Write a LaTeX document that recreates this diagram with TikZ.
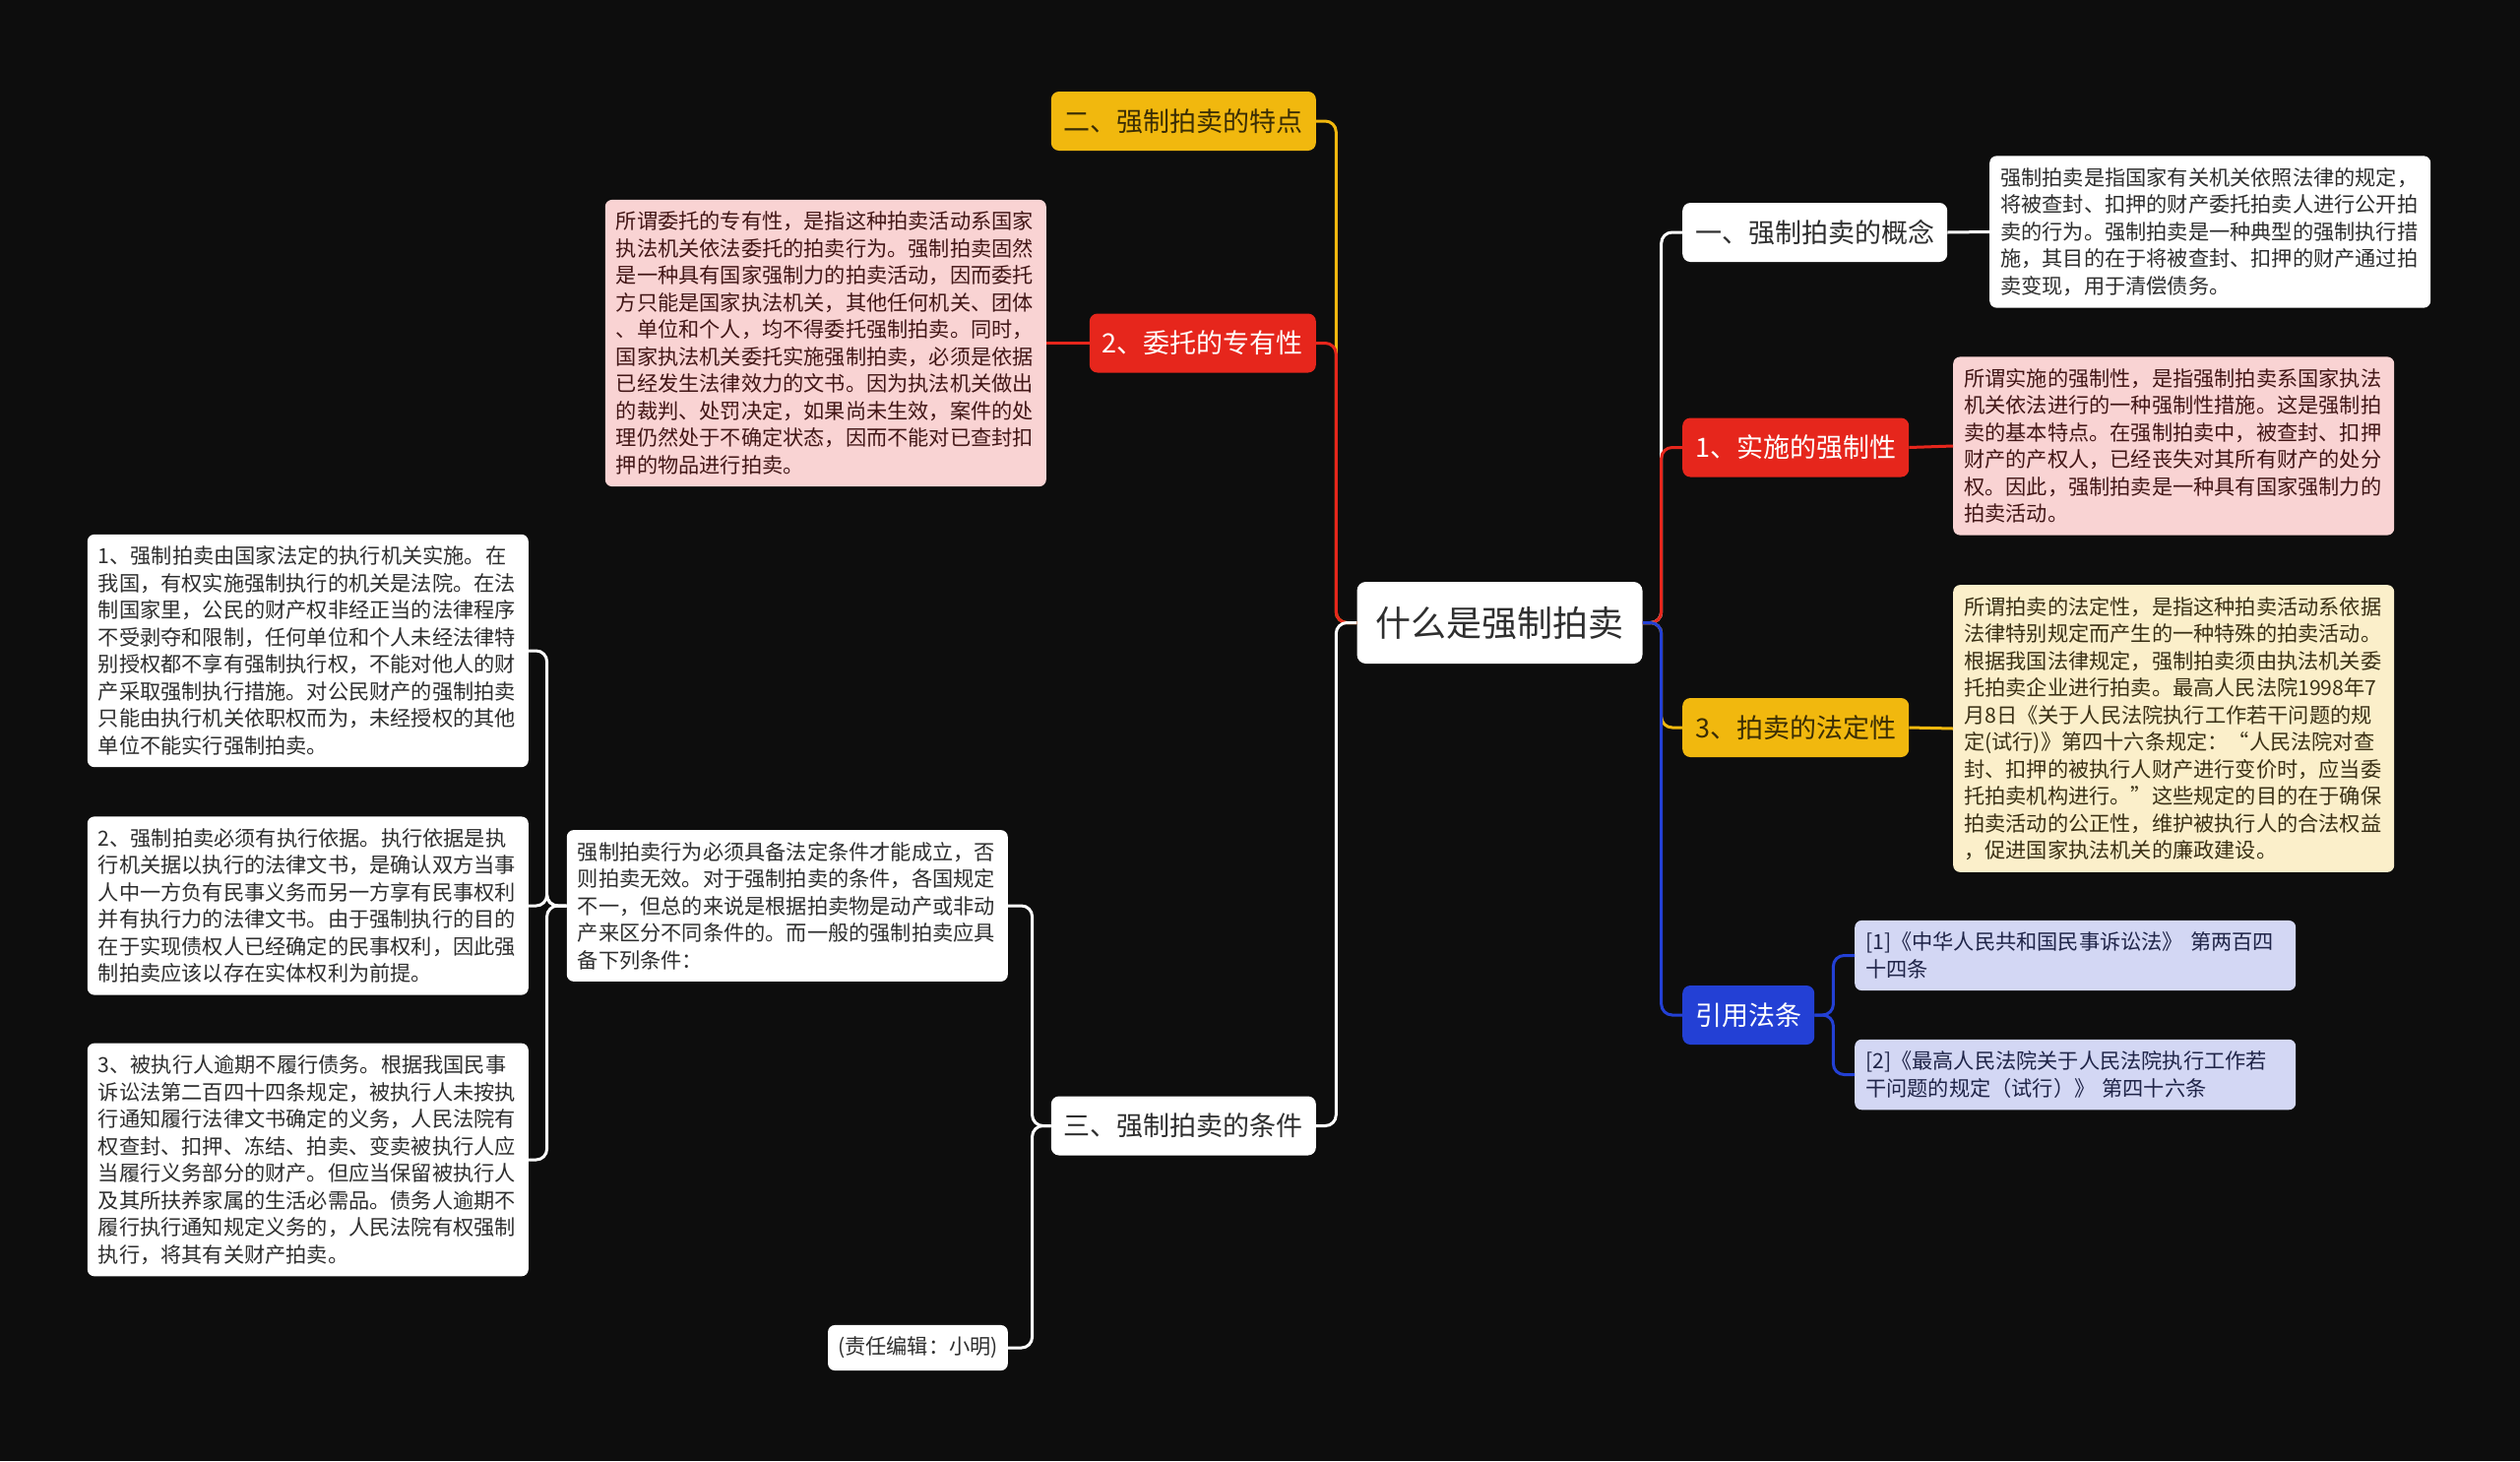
\documentclass[tikz,border=0pt]{standalone}
\usepackage{fontspec}
\setmainfont{Noto Sans CJK SC}
\definecolor{bg}{HTML}{0D0D0D}
\definecolor{cyel}{HTML}{F1B80E}
\definecolor{cred}{HTML}{E6261C}
\definecolor{cblue}{HTML}{2340D5}
\definecolor{cpink}{HTML}{F9D3D3}
\definecolor{ccream}{HTML}{FBEFCA}
\definecolor{clav}{HTML}{D3D7F4}
\definecolor{tdark}{HTML}{2E2E2E}
\definecolor{tyel}{HTML}{3A2D05}
\definecolor{tpink}{HTML}{421616}
\definecolor{tcream}{HTML}{3A3015}
\definecolor{tlav}{HTML}{1F2448}
\tikzset{
  branch/.style={rounded corners=8pt, minimum height=60pt, inner xsep=13pt, inner ysep=0pt, font=\fontsize{27}{32}\selectfont},
  leaf/.style={rounded corners=7pt, text width=426pt, align=left, inner xsep=11pt, inner ysep=12pt, font=\fontsize{21.2}{27.5}\selectfont},
  conn/.style={line width=3pt, rounded corners=11pt},
}
\begin{document}
\begin{tikzpicture}[x=1pt,y=-1pt]
\useasboundingbox (0,0) rectangle (2560,1484);
\fill[bg] (0,0) rectangle (2560,1484);

% root
\node[fill=white, text=tdark, rounded corners=9pt, minimum height=83pt, inner xsep=19pt, inner ysep=0pt, font=\fontsize{36}{42}\selectfont] (root) at (1523.5,632.5) {什么是强制拍卖};

% left branches
\node[branch, fill=cyel, text=tyel, anchor=east] (tedian) at (1337,123) {二、强制拍卖的特点};
\node[branch, fill=cred, text=white, anchor=east] (weituo) at (1337,348.5) {2、委托的专有性};
\node[branch, fill=white, text=tdark, anchor=east] (tiaojian) at (1337,1143.5) {三、强制拍卖的条件};

% right branches
\node[branch, fill=white, text=tdark, anchor=west] (gainian) at (1709,236) {一、强制拍卖的概念};
\node[branch, fill=cred, text=white, anchor=west] (qiangzhi) at (1709,454.5) {1、实施的强制性};
\node[branch, fill=cyel, text=tyel, anchor=west] (fading) at (1709,739) {3、拍卖的法定性};
\node[branch, fill=cblue, text=white, anchor=west] (yinyong) at (1709,1031) {引用法条};

% right leaves
\node[leaf, fill=white, text=tdark, anchor=west] (gnText) at (2021,235.5) {强制拍卖是指国家有关机关依照法律的规定，\\将被查封、扣押的财产委托拍卖人进行公开拍\\卖的行为。强制拍卖是一种典型的强制执行措\\施，其目的在于将被查封、扣押的财产通过拍\\卖变现，用于清偿债务。};
\node[leaf, fill=cpink, text=tpink, anchor=west] (qzText) at (1984,453) {所谓实施的强制性，是指强制拍卖系国家执法\\机关依法进行的一种强制性措施。这是强制拍\\卖的基本特点。在强制拍卖中，被查封、扣押\\财产的产权人，已经丧失对其所有财产的处分\\权。因此，强制拍卖是一种具有国家强制力的\\拍卖活动。};
\node[leaf, fill=ccream, text=tcream, anchor=west] (fdText) at (1984,740) {所谓拍卖的法定性，是指这种拍卖活动系依据\\法律特别规定而产生的一种特殊的拍卖活动。\\根据我国法律规定，强制拍卖须由执法机关委\\托拍卖企业进行拍卖。最高人民法院1998年7\\月8日《关于人民法院执行工作若干问题的规\\定(试行)》第四十六条规定：“人民法院对查\\封、扣押的被执行人财产进行变价时，应当委\\托拍卖机构进行。”这些规定的目的在于确保\\拍卖活动的公正性，维护被执行人的合法权益\\，促进国家执法机关的廉政建设。};
\node[leaf, fill=clav, text=tlav, anchor=west] (ref1) at (1884,970.5) {[1]《中华人民共和国民事诉讼法》 第两百四\\十四条};
\node[leaf, fill=clav, text=tlav, anchor=west] (ref2) at (1884,1091.5) {[2]《最高人民法院关于人民法院执行工作若\\干问题的规定（试行）》 第四十六条};

% left leaves
\node[leaf, fill=cpink, text=tpink, anchor=east] (wtText) at (1063,348.5) {所谓委托的专有性，是指这种拍卖活动系国家\\执法机关依法委托的拍卖行为。强制拍卖固然\\是一种具有国家强制力的拍卖活动，因而委托\\方只能是国家执法机关，其他任何机关、团体\\、单位和个人，均不得委托强制拍卖。同时，\\国家执法机关委托实施强制拍卖，必须是依据\\已经发生法律效力的文书。因为执法机关做出\\的裁判、处罚决定，如果尚未生效，案件的处\\理仍然处于不确定状态，因而不能对已查封扣\\押的物品进行拍卖。};
\node[leaf, fill=white, text=tdark, anchor=east] (intro) at (1024,920) {强制拍卖行为必须具备法定条件才能成立，否\\则拍卖无效。对于强制拍卖的条件，各国规定\\不一，但总的来说是根据拍卖物是动产或非动\\产来区分不同条件的。而一般的强制拍卖应具\\备下列条件：};
\node[fill=white, text=tdark, rounded corners=7pt, inner xsep=10pt, inner ysep=12pt, font=\fontsize{21.2}{27.5}\selectfont, anchor=east] (editor) at (1024,1369) {(责任编辑：小明)};
\node[leaf, fill=white, text=tdark, anchor=east] (cond1) at (537,661) {1、强制拍卖由国家法定的执行机关实施。在\\我国，有权实施强制执行的机关是法院。在法\\制国家里，公民的财产权非经正当的法律程序\\不受剥夺和限制，任何单位和个人未经法律特\\别授权都不享有强制执行权，不能对他人的财\\产采取强制执行措施。对公民财产的强制拍卖\\只能由执行机关依职权而为，未经授权的其他\\单位不能实行强制拍卖。};
\node[leaf, fill=white, text=tdark, anchor=east] (cond2) at (537,920) {2、强制拍卖必须有执行依据。执行依据是执\\行机关据以执行的法律文书，是确认双方当事\\人中一方负有民事义务而另一方享有民事权利\\并有执行力的法律文书。由于强制执行的目的\\在于实现债权人已经确定的民事权利，因此强\\制拍卖应该以存在实体权利为前提。};
\node[leaf, fill=white, text=tdark, anchor=east] (cond3) at (537,1178) {3、被执行人逾期不履行债务。根据我国民事\\诉讼法第二百四十四条规定，被执行人未按执\\行通知履行法律文书确定的义务，人民法院有\\权查封、扣押、冻结、拍卖、变卖被执行人应\\当履行义务部分的财产。但应当保留被执行人\\及其所扶养家属的生活必需品。债务人逾期不\\履行执行通知规定义务的，人民法院有权强制\\执行，将其有关财产拍卖。};

% connectors: root to left branches
\draw[conn, cyel] (root.west) -- ++(-21,0) |- (tedian.east);
\draw[conn, cred] (root.west) -- ++(-21,0) |- (weituo.east);
\draw[conn, white] (root.west) -- ++(-21,0) |- (tiaojian.east);
% root to right branches
\draw[conn, white] (root.east) -- ++(19,0) |- (gainian.west);
\draw[conn, cred] (root.east) -- ++(19,0) |- (qiangzhi.west);
\draw[conn, cyel] (root.east) -- ++(19,0) |- (fading.west);
\draw[conn, cblue] (root.east) -- ++(19,0) |- (yinyong.west);

% branches to leaves
\draw[conn, white] (gainian.east) -- (gnText.west);
\draw[conn, cred] (qiangzhi.east) -- (qzText.west);
\draw[conn, cyel] (fading.east) -- (fdText.west);
\draw[conn, cblue] (yinyong.east) -- ++(19,0) |- (ref1.west);
\draw[conn, cblue] (yinyong.east) -- ++(19,0) |- (ref2.west);
\draw[conn, cred] (weituo.west) -- (wtText.east);
\draw[conn, white] (tiaojian.west) -- ++(-19,0) |- (intro.east);
\draw[conn, white] (tiaojian.west) -- ++(-19,0) |- (editor.east);
\draw[conn, white] (intro.west) -- ++(-20,0) |- (cond1.east);
\draw[conn, white] (intro.west) -- ++(-20,0) |- (cond2.east);
\draw[conn, white] (intro.west) -- ++(-20,0) |- (cond3.east);
\end{tikzpicture}
\end{document}
